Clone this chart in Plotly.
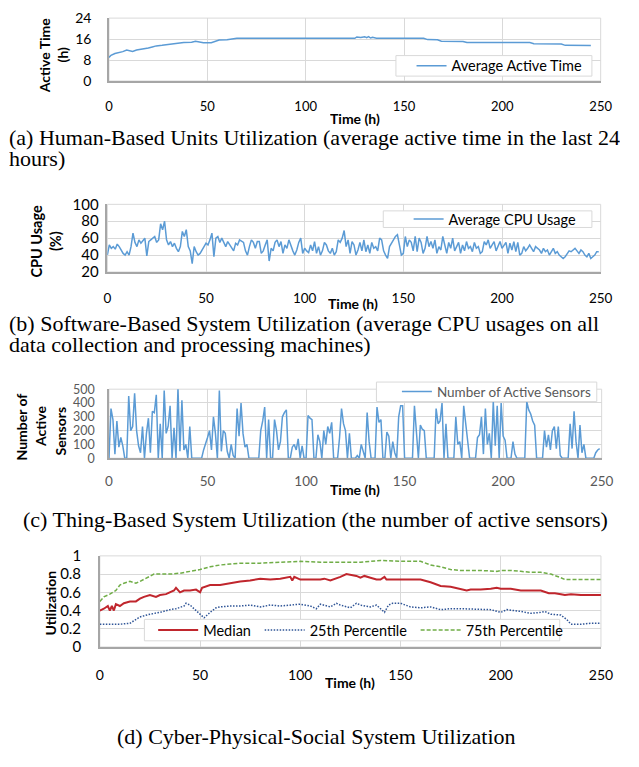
import plotly.graph_objects as go

W, H = 639, 767

# ---------------- data ----------------
# (a) average active time (h)
active_t = [0, 1, 3, 5, 7, 9, 11, 12, 14, 16, 18, 20, 22, 24, 27, 30, 32, 35, 38, 42, 44, 46, 48, 52, 54, 56, 60, 63, 65,
            80, 100, 120, 125, 126, 128, 130, 131, 132, 133, 134, 136, 150, 160, 162, 167, 169, 180, 182, 200, 214, 216, 230, 232, 245]
active_v = [9.0, 9.8, 10.5, 10.8, 11.2, 11.8, 11.6, 11.3, 11.8, 12.0, 12.3, 12.6, 13.0, 13.4, 13.6, 13.8, 14.1, 14.4, 14.7, 14.8, 15.2, 15.0, 14.6, 14.6, 15.2, 15.6, 15.7, 15.9, 16.3,
            16.3, 16.3, 16.3, 16.3, 16.8, 16.6, 16.9, 16.5, 16.9, 16.4, 16.7, 16.3, 16.3, 16.3, 15.8, 15.7, 15.2, 15.1, 14.7, 14.7, 14.7, 14.2, 14.1, 13.6, 13.5]

# (b) average CPU usage (%), hourly
cpu_v = [40, 52, 48, 50, 47, 53, 50, 45, 42, 40, 44, 40, 50, 66, 55, 50, 58, 54, 57, 60,
         39, 56, 58, 60, 62, 55, 58, 77, 70, 80, 58, 52, 56, 50, 54, 48, 44, 50, 68, 62,
         70, 50, 45, 30, 50, 44, 40, 42, 47, 50, 54, 52, 58, 66, 38, 60, 62, 55, 60, 55,
         50, 56, 52, 48, 45, 54, 52, 58, 56, 55, 45, 40, 50, 58, 55, 48, 56, 56, 42, 45,
         52, 58, 33, 48, 45, 55, 58, 50, 56, 42, 52, 48, 58, 50, 45, 40, 46, 55, 60, 42,
         48, 45, 43, 52, 45, 56, 42, 50, 40, 45, 55, 52, 45, 42, 48, 40, 44, 58, 55, 60,
         69, 50, 58, 42, 56, 52, 40, 46, 55, 45, 58, 44, 52, 42, 55, 48, 50, 45, 60, 58,
         45, 40, 36, 50, 55, 58, 62, 64, 52, 40, 42, 62, 50, 58, 55, 45, 62, 44, 60, 55,
         42, 48, 62, 50, 56, 48, 58, 42, 50, 46, 62, 52, 42, 55, 48, 60, 45, 50, 55, 42,
         52, 45, 56, 48, 50, 44, 55, 48, 50, 42, 44, 56, 52, 58, 48, 52, 56, 45, 50, 56,
         48, 52, 55, 42, 54, 46, 56, 44, 55, 40, 42, 50, 45, 48, 52, 48, 44, 50, 48, 46,
         42, 48, 44, 46, 40, 45, 48, 42, 44, 40, 38, 36, 38, 42, 45, 44, 46, 48, 45, 42,
         46, 44, 40, 38, 42, 36, 38, 40, 44, 44]

# (c) number of active sensors, hourly
sensors_v = [0, 360, 280, 30, 270, 80, 150, 90, 0, 0, 450, 200, 230, 470, 200, 90, 40, 230, 0, 180,
             290, 40, 340, 330, 460, 0, 250, 0, 490, 180, 230, 380, 0, 220, 0, 510, 50, 420, 60, 100,
             0, 230, 0, 0, 0, 0, 0, 0, 60, 100, 150, 200, 60, 300, 180, 0, 490, 50, 200, 180,
             50, 0, 100, 20, 0, 360, 160, 400, 180, 80, 100, 0, 0, 0, 0, 0, 0, 200, 270, 370,
             0, 280, 0, 0, 280, 200, 60, 120, 300, 330, 350, 0, 0, 80, 100, 60, 140, 0, 90, 0,
             0, 310, 290, 280, 0, 0, 170, 120, 0, 200, 100, 230, 180, 260, 0, 0, 0, 150, 360, 250,
             200, 0, 180, 0, 0, 0, 20, 0, 100, 50, 0, 330, 120, 0, 0, 0, 370, 260, 280, 0,
             0, 190, 160, 0, 120, 40, 0, 300, 380, 380, 0, 0, 0, 0, 0, 380, 200, 0, 240, 210,
             200, 0, 0, 0, 0, 0, 360, 250, 270, 400, 0, 250, 0, 0, 0, 0, 300, 100, 120, 0,
             380, 250, 120, 0, 0, 0, 0, 150, 170, 300, 30, 360, 100, 180, 0, 410, 90, 380, 0, 400,
             160, 130, 0, 0, 0, 120, 30, 0, 0, 0, 0, 0, 410, 350, 320, 270, 240, 0, 0, 0,
             0, 200, 80, 170, 60, 200, 230, 70, 230, 20, 0, 0, 0, 0, 250, 70, 340, 120, 0, 240,
             40, 100, 0, 0, 0, 0, 0, 40, 60, 70]

# (d) cyber-physical-social system utilization
med_t = [0, 2, 4, 5, 6, 7, 8, 10, 12, 15, 18, 20, 22, 25, 28, 30, 33, 35, 37, 38, 40, 42, 45, 48, 50, 51, 55, 60, 65, 70,
         75, 80, 85, 90, 95, 96, 97, 100, 110, 112, 115, 118, 120, 123, 125, 128, 130, 132, 135, 138, 140, 142, 143, 150, 160,
         165, 170, 175, 180, 183, 185, 190, 195, 198, 200, 205, 210, 220, 224, 227, 230, 232, 235, 240, 250]
med_v = [0.40, 0.42, 0.45, 0.40, 0.45, 0.40, 0.47, 0.45, 0.48, 0.50, 0.50, 0.53, 0.55, 0.57, 0.55, 0.57, 0.58, 0.60, 0.62, 0.65, 0.60, 0.62, 0.62, 0.63, 0.60, 0.65, 0.68, 0.68, 0.70, 0.72,
         0.73, 0.75, 0.74, 0.75, 0.77, 0.73, 0.77, 0.74, 0.74, 0.75, 0.73, 0.75, 0.77, 0.80, 0.79, 0.78, 0.76, 0.78, 0.76, 0.74, 0.74, 0.77, 0.74, 0.74, 0.74,
         0.71, 0.67, 0.66, 0.64, 0.62, 0.63, 0.63, 0.64, 0.65, 0.64, 0.64, 0.62, 0.62, 0.59, 0.59, 0.58, 0.57, 0.58, 0.57, 0.57]

p25_t = [0, 10, 15, 18, 20, 25, 30, 35, 38, 42, 43, 45, 47, 50, 52, 55, 58, 60, 65, 70, 75, 80, 85, 90, 95, 100, 105, 108,
         110, 115, 118, 120, 125, 128, 130, 135, 138, 140, 142, 144, 146, 150, 155, 160, 165, 170, 175, 180, 190, 195, 200,
         203, 210, 215, 220, 222, 225, 230, 233, 235, 240, 245, 250]
p25_v = [0.25, 0.25, 0.26, 0.30, 0.33, 0.36, 0.38, 0.41, 0.42, 0.45, 0.48, 0.46, 0.42, 0.36, 0.32, 0.38, 0.43, 0.44, 0.45, 0.45, 0.46, 0.44, 0.46, 0.45, 0.46, 0.47, 0.45, 0.42,
         0.47, 0.44, 0.48, 0.46, 0.43, 0.48, 0.46, 0.44, 0.46, 0.42, 0.38, 0.46, 0.48, 0.48, 0.44, 0.43, 0.44, 0.41, 0.42, 0.42, 0.41, 0.41, 0.38,
         0.41, 0.39, 0.37, 0.38, 0.39, 0.36, 0.35, 0.30, 0.25, 0.25, 0.26, 0.26]

p75_t = [0, 2, 5, 8, 10, 12, 15, 18, 20, 25, 27, 35, 40, 45, 50, 55, 60, 65, 70, 80, 90, 100, 110, 120, 130, 135, 140, 150,
         160, 165, 170, 175, 180, 190, 198, 200, 205, 210, 215, 220, 225, 230, 232, 250]
p75_v = [0.50, 0.55, 0.58, 0.62, 0.68, 0.70, 0.72, 0.70, 0.72, 0.78, 0.80, 0.80, 0.81, 0.83, 0.85, 0.88, 0.90, 0.91, 0.92, 0.92, 0.93, 0.94, 0.93, 0.93, 0.93, 0.94, 0.95, 0.94,
         0.94, 0.90, 0.88, 0.85, 0.84, 0.84, 0.83, 0.84, 0.84, 0.83, 0.82, 0.82, 0.80, 0.76, 0.74, 0.74]

hours = list(range(250))

# ---------------- figure ----------------
BLUE = "#5B9BD5"
FONT = "Lato"
SERIF = "Liberation Serif"
NB = "\u00a0"


def px_x(p):
    return p / W


def px_y(p):
    return 1 - p / H


fig = go.Figure()

fig.add_trace(go.Scatter(x=active_t, y=active_v, mode="lines", name="Average Active Time",
                         line=dict(color=BLUE, width=1.5), xaxis="x", yaxis="y", legend="legend"))
fig.add_trace(go.Scatter(x=hours, y=cpu_v, mode="lines", name="Average CPU Usage",
                         line=dict(color=BLUE, width=1.5), xaxis="x2", yaxis="y2", legend="legend2"))
fig.add_trace(go.Scatter(x=hours, y=sensors_v, mode="lines", name="Number of Active Sensors",
                         line=dict(color=BLUE, width=1.5), xaxis="x3", yaxis="y3", legend="legend3"))
fig.add_trace(go.Scatter(x=med_t, y=med_v, mode="lines", name="Median" + NB,
                         line=dict(color="#C0262D", width=2), xaxis="x4", yaxis="y4", legend="legend4"))
fig.add_trace(go.Scatter(x=p25_t, y=p25_v, mode="lines", name="25th Percentile" + NB,
                         line=dict(color="#2F5597", width=1.5, dash="1.5px,1.5px"), xaxis="x4", yaxis="y4", legend="legend4"))
fig.add_trace(go.Scatter(x=p75_t, y=p75_v, mode="lines", name="75th Percentile",
                         line=dict(color="#70AD47", width=1.5, dash="4px,2px"), xaxis="x4", yaxis="y4", legend="legend4"))

panels = [
    dict(x=(107.7, 612), y=(8.3, 72.7), yr=[0, 24], dt=8, tc="#000000", yfs=14, xfs=13, ysd=13, xsd=13),
    dict(x=(106, 612), y=(199, 268.3), yr=[20, 100], dt=20, tc="#000000", yfs=15, xfs=13.5, ysd=4, xsd=13),
    dict(x=(107.7, 613), y=(388.3, 459), yr=[0, 500], dt=100, tc="#595959", yfs=12.5, xfs=13.5, ysd=10, xsd=10),
    dict(x=(98.3, 612.3), y=(559, 652.3), yr=[0, 1], dt=0.2, tc="#000000", yfs=15, xfs=14, ysd=14, xsd=14),
]

layout = dict(width=W, height=H, margin=dict(l=0, r=0, t=0, b=0), autosize=False,
              paper_bgcolor="white", plot_bgcolor="white", showlegend=True,
              font=dict(family=FONT, size=13, color="#000000"))
shapes = []
for i, p in enumerate(panels, start=1):
    sx = "" if i == 1 else str(i)
    layout["xaxis" + sx] = dict(domain=[px_x(p["x"][0]), px_x(p["x"][1])], anchor="y" + sx,
                                range=[0, 250], dtick=50, tick0=0, showgrid=True, gridcolor="#D9D9D9", gridwidth=1,
                                showline=True, linecolor="#A6A6A6", linewidth=1.5, zeroline=False,
                                ticks="", ticklabelstandoff=p["xsd"],
                                tickfont=dict(family=FONT, size=p["xfs"], color=p["tc"]))
    layout["yaxis" + sx] = dict(domain=[px_y(p["y"][1]), px_y(p["y"][0])], anchor="x" + sx,
                                range=p["yr"], dtick=p["dt"], tick0=0, showgrid=True, gridcolor="#D9D9D9", gridwidth=1,
                                showline=True, linecolor="#A6A6A6", linewidth=1.5, zeroline=False,
                                ticks="", ticklabelstandoff=p["ysd"],
                                tickfont=dict(family=FONT, size=p["yfs"], color=p["tc"]))
    shapes.append(dict(type="rect", xref="x" + sx + " domain", yref="y" + sx + " domain", x0=0, x1=1, y0=0, y1=1,
                       line=dict(color="#D9D9D9", width=1), layer="below"))

# legend boxes (drawn as shapes so their size matches the reference)
for (x0, x1, y0, y1) in [(402, 603, 46.7, 67.7), (389, 603, 205.7, 222.7), (382, 608, 381, 401), (144, 570, 624, 646)]:
    shapes.append(dict(type="rect", xref="paper", yref="paper", x0=px_x(x0), x1=px_x(x1), y0=px_y(y1), y1=px_y(y0),
                       fillcolor="white", line=dict(color="#D9D9D9", width=1), layer="above"))
layout["shapes"] = shapes

leg_common = dict(bgcolor="rgba(0,0,0,0)", borderwidth=0, tracegroupgap=0, xanchor="left", yanchor="middle")
layout["legend"] = dict(x=px_x(418), y=px_y(57.2), font=dict(family=FONT, size=14.5, color="#000000"), **leg_common)
layout["legend2"] = dict(x=px_x(415), y=px_y(214.2), font=dict(family=FONT, size=14.5, color="#000000"), **leg_common)
layout["legend3"] = dict(x=px_x(403), y=px_y(391), font=dict(family=FONT, size=13.5, color="#595959"), **leg_common)
layout["legend4"] = dict(x=px_x(153), y=px_y(635), orientation="h", itemwidth=40,
                         font=dict(family=FONT, size=14.5, color="#000000"), **leg_common)

ann = []


def add_text(text, x, y, size, bold=False, angle=0, family=FONT, xanchor="center", color="#000000", height=None):
    a = dict(text=("<b>%s</b>" % text) if bold else text, x=px_x(x), y=px_y(y), xref="paper", yref="paper",
             showarrow=False, textangle=angle, xanchor=xanchor, yanchor="middle",
             font=dict(family=family, size=size, color=color))
    if height:
        a["height"] = height
    ann.append(a)


# axis titles
add_text("Active Time", 41.7, 46.7, 14, bold=True, angle=-90)
add_text("(h)", 60, 45, 14, bold=True, angle=-90)
add_text("Time (h)", 360, 111.5, 14, bold=True, height=17)
add_text("CPU Usage", 33, 237, 14.5, bold=True, angle=-90)
add_text("(%)", 53, 237, 14.5, bold=True, angle=-90)
add_text("Time (h)", 358, 301, 14, bold=True, height=17)
add_text("Number of", 18, 427, 14, bold=True, angle=-90)
add_text("Active", 38, 427, 14, bold=True, angle=-90)
add_text("Sensors", 58, 431, 14, bold=True, angle=-90)
add_text("Time (h)", 360, 491, 14, bold=True, height=17)
add_text("Utilization", 48, 607, 14, bold=True, angle=-90)
add_text("Time (h)", 355, 689, 14, bold=True, height=17)

# captions
add_text("(a) Human-Based Units Utilization (average active time in the last 24", 3, 131, 22, family=SERIF, xanchor="left", height=25)
add_text("hours)", 3, 152, 22, family=SERIF, xanchor="left", height=25)
add_text("(b) Software-Based System Utilization (average CPU usages on all", 3, 321, 22, family=SERIF, xanchor="left", height=25)
add_text("data collection and processing machines)", 3, 342.5, 22, family=SERIF, xanchor="left", height=25)
add_text("(c) Thing-Based System Utilization (the number of active sensors)", 319, 522, 22, family=SERIF, height=25)
add_text("(d) Cyber-Physical-Social System Utilization", 321, 744, 22, family=SERIF, height=25)

layout["annotations"] = ann
fig.update_layout(**layout)

fig.write_html("out.html", config={"displayModeBar": False},
               post_script="document.body.style.margin='0';document.body.style.padding='0';")
